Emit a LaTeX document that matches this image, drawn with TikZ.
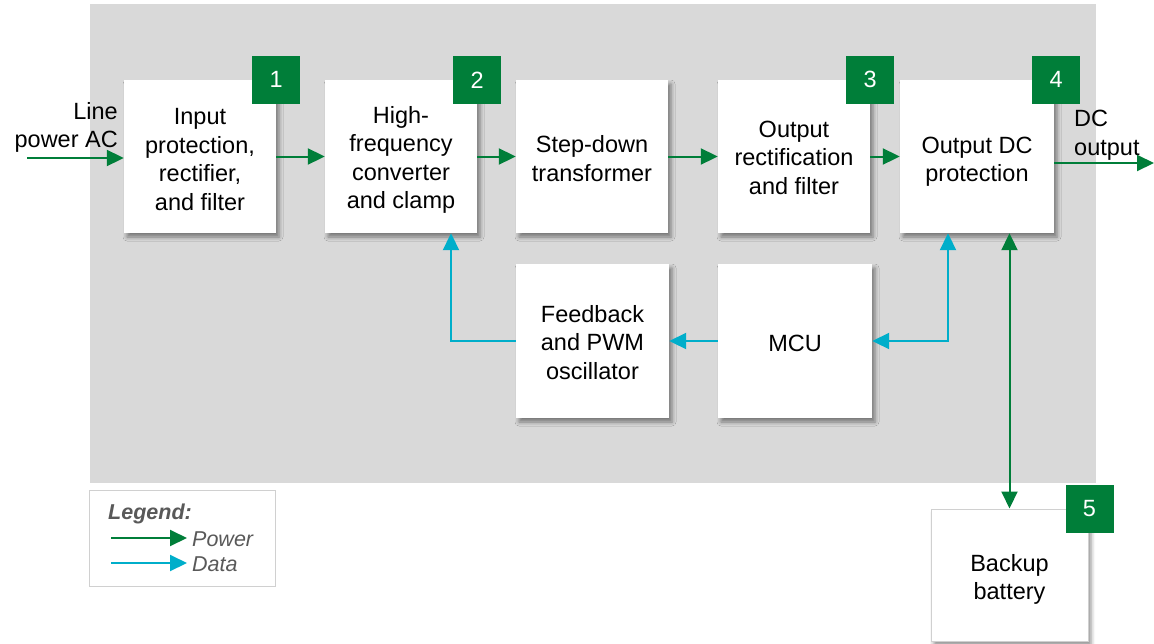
\documentclass[tikz,border=0pt]{standalone}
\usepackage{fontspec}
\setmainfont{Liberation Sans}
\usetikzlibrary{arrows.meta,shadows.blur,calc}
\definecolor{pgreen}{RGB}{0,126,57}
\definecolor{dcyan}{RGB}{0,174,202}
\definecolor{bggray}{RGB}{217,217,217}
\definecolor{leggray}{RGB}{89,89,89}
\definecolor{lborder}{RGB}{208,208,208}
\begin{document}
\begin{tikzpicture}[x=1pt,y=-1pt,
  blk/.style={fill=white, minimum width=152pt, minimum height=153pt, inner sep=0pt,
    blur shadow={shadow xshift=3pt, shadow yshift=-4pt, shadow blur radius=4pt, shadow opacity=45}},
  txt/.style={inner sep=0pt, align=center, font=\fontsize{23.5}{28.5}\selectfont},
  badge/.style={fill=pgreen, minimum size=48pt, inner sep=0pt, text=white, font=\fontsize{23.5}{28}\selectfont},
  lbl/.style={inner sep=0pt, font=\fontsize{23.5}{28.5}\selectfont},
  tip/.style={Triangle[length=17pt,width=16pt]},
  power/.style={draw=pgreen, line width=2pt, -{Triangle[length=17pt,width=16pt]}},
  data/.style={draw=dcyan, line width=2pt, -{Triangle[length=17pt,width=16pt]}},
  powerboth/.style={draw=pgreen, line width=2pt, {Triangle[length=17pt,width=16pt]}-{Triangle[length=17pt,width=16pt]}},
  databoth/.style={draw=dcyan, line width=2pt, {Triangle[length=17pt,width=16pt]}-{Triangle[length=17pt,width=16pt]}},
  legtext/.style={inner sep=0pt, text=leggray, font=\fontsize{21.5}{25}\selectfont\itshape},
]
\useasboundingbox (0,0) rectangle (1154,643);
% background
\fill[bggray] (90,4) rectangle (1096,483);

% main blocks
\node[blk] (b1) at (200,156.5) {};
\node[blk] (b2) at (401,156.5) {};
\node[blk] (b3) at (592,156.5) {};
\node[blk] (b4) at (794,156.5) {};
\node[blk, minimum width=154pt] (b5) at (977,156.5) {};
\node[blk, minimum width=153pt, minimum height=154pt] (fb) at (592.5,341) {};
\node[blk, minimum width=154pt, minimum height=154pt] (mcu) at (795,341) {};
\node[blk, draw=lborder, line width=1pt, minimum width=157pt, minimum height=132pt] (bat) at (1009.5,575) {};

% block texts
\node[txt] (t1) at ([yshift=-3pt]b1) {Input\\protection,\\rectifier,\\and filter};
\node[txt] (t2) at ([yshift=-3.5pt]b2) {High-\\frequency\\converter\\and clamp};
\node[txt] (t3) at ([yshift=-2pt]b3) {Step-down\\transformer};
\node[txt] (t4) at ([yshift=-1pt]b4) {Output\\rectification\\and filter};
\node[txt] (t5) at ([yshift=-5pt]b5) {Output DC\\protection};
\node[txt] (t6) at ([yshift=-1.5pt]fb) {Feedback\\and PWM\\oscillator};
\node[txt] (t7) at ([yshift=-2pt]mcu) {MCU};
\node[txt] (t8) at ([yshift=-4.5pt]bat) {Backup\\battery};

% badges
\node[badge] (n1) at (b1.north east) {1};
\node[badge] (n2) at (b2.north east) {2};
\node[badge] (n3) at (b4.north east) {3};
\node[badge] (n4) at ([xshift=2pt]b5.north east) {4};
\node[badge] (n5) at ([xshift=1pt]bat.north east) {5};

% labels
\node[lbl, anchor=east, align=right] (lin) at (118,127.5) {Line\\power AC};
\node[lbl, anchor=west, align=left] (lout) at (1074,135) {DC\\output};

% power connectors
\coordinate (in) at (27,158);
\coordinate (out) at (1154,163);
\draw[power] (in) -- (in -| b1.west);
\draw[power] (b1) -- (b2);
\draw[power] (b2) -- (b3);
\draw[power] (b3) -- (b4);
\draw[power] (b4) -- (b5);
\draw[power] (b5.east |- out) -- (out);
\draw[powerboth] (bat.north) -- (bat.north |- b5.south);

% data connectors
\draw[databoth] (mcu.east) -| ([xshift=-29pt]b5.south);
\draw[data] (mcu) -- (fb);
\draw[data] (fb.west) -| ([xshift=50pt]b2.south);

% legend
\node[draw=lborder, line width=1pt, fill=white, minimum width=186pt, minimum height=96pt, inner sep=0pt] (leg) at (182,538) {};
\node[legtext, anchor=west, font=\fontsize{21.5}{25}\selectfont\bfseries\itshape] (legt) at (108,514) {Legend:};
\coordinate (lp1) at (111,538);
\coordinate (lp2) at (187,538);
\coordinate (ld1) at (111,563);
\coordinate (ld2) at (187,563);
\draw[power] (lp1) -- (lp2);
\draw[data] (ld1) -- (ld2);
\node[legtext, anchor=west] (lpt) at (192,539) {Power};
\node[legtext, anchor=west] (ldt) at (192,564) {Data};
\end{tikzpicture}
\end{document}
